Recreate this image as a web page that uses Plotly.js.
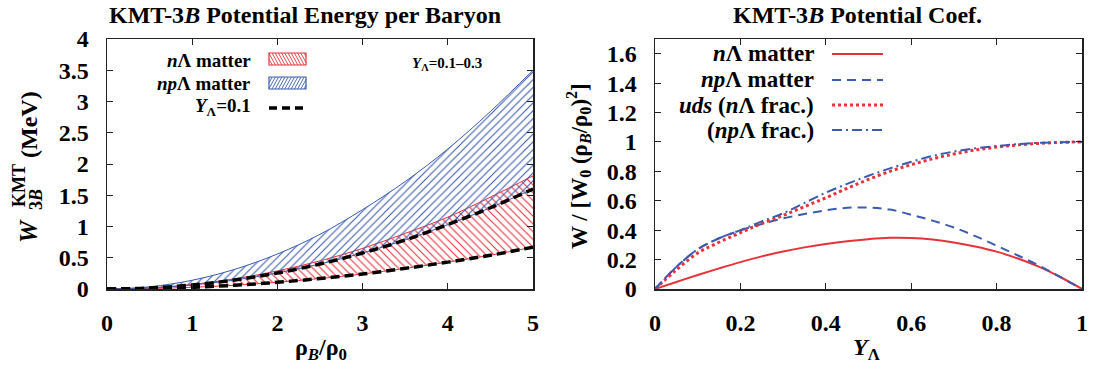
<!DOCTYPE html>
<html>
<head>
<meta charset="utf-8">
<script src="https://cdn.plot.ly/plotly-3.0.1.min.js"></script>
<style>html,body{margin:0;padding:0;background:#fff;}#chart{width:1094px;height:368px;}</style>
</head>
<body>
<div id="chart"></div>
<script>
// ---------- data: left panel (W_3B^KMT vs rho_B/rho_0) ----------
const rho = [0, 0.5, 1, 1.5, 2, 2.5, 3, 3.5, 4, 4.5, 5];
const wNLam01  = [0, 0.007, 0.027, 0.060, 0.107, 0.168, 0.240, 0.330, 0.430, 0.540, 0.670]; // nΛ, Y=0.1
const wNLam03  = [0, 0.018, 0.072, 0.163, 0.290, 0.450, 0.650, 0.890, 1.150, 1.470, 1.810]; // nΛ, Y=0.3
const wNPLam01 = [0, 0.016, 0.064, 0.144, 0.256, 0.400, 0.576, 0.784, 1.030, 1.300, 1.600]; // npΛ, Y=0.1
const wNPLam03 = [0, 0.035, 0.140, 0.315, 0.560, 0.875, 1.270, 1.720, 2.240, 2.840, 3.500]; // npΛ, Y=0.3

// ---------- data: right panel (coefficients vs Y_Λ) ----------
const yLam = [0, 0.05, 0.1, 0.15, 0.2, 0.25, 0.3, 0.35, 0.4, 0.45, 0.5, 0.55, 0.6, 0.65, 0.7, 0.75, 0.8, 0.85, 0.9, 0.95, 1.0];
const cNLam   = [0, 0.048, 0.095, 0.140, 0.183, 0.222, 0.255, 0.283, 0.306, 0.325, 0.339, 0.348, 0.347, 0.336, 0.316, 0.289, 0.254, 0.207, 0.150, 0.080, 0];
const cNPLam  = [0, 0.150, 0.270, 0.345, 0.398, 0.442, 0.480, 0.510, 0.535, 0.552, 0.553, 0.540, 0.505, 0.465, 0.418, 0.360, 0.295, 0.228, 0.158, 0.080, 0];
const cUdsNL  = [0, 0.130, 0.245, 0.318, 0.383, 0.445, 0.500, 0.560, 0.620, 0.685, 0.745, 0.800, 0.845, 0.885, 0.918, 0.945, 0.965, 0.980, 0.990, 0.997, 1.0];
const cUdsNPL = [0, 0.150, 0.270, 0.345, 0.400, 0.460, 0.515, 0.585, 0.655, 0.715, 0.770, 0.820, 0.865, 0.905, 0.935, 0.957, 0.972, 0.985, 0.994, 0.998, 1.0];

// ---------- labels ----------
const titleLeft  = '<b>KMT-3<i>B</i> Potential Energy per Baryon</b>';
const titleRight = '<b>KMT-3<i>B</i> Potential Coef.</b>';
const legLeft  = ['<b><i>n</i>Λ matter</b>', '<b><i>np</i>Λ matter</b>', '<b><i>Y</i><sub>Λ</sub>=0.1</b>'];
const legRight = ['<b><i>n</i>Λ matter</b>', '<b><i>np</i>Λ matter</b>', '<b><i>uds</i> (<i>n</i>Λ frac.)</b>', '<b>(<i>np</i>Λ frac.)</b>'];

const RED = '#e8323a', BLUE = '#3a5bb0', BLACK = '#000';
const W = 1094, H = 368;
const FONT = 'Liberation Serif';
const px = v => v / W, py = v => 1 - v / H;

const traces = [
  {x: rho, y: wNLam01, xaxis: 'x', yaxis: 'y', mode: 'lines', line: {color: RED, width: 1, shape: 'spline'}, showlegend: false},
  {x: rho, y: wNLam03, xaxis: 'x', yaxis: 'y', mode: 'lines', line: {color: RED, width: 1, shape: 'spline'}, fill: 'tonexty',
   fillcolor: 'rgba(0,0,0,0)', fillpattern: {shape: '\\', fgcolor: RED, bgcolor: 'rgba(0,0,0,0)', size: 5.5, solidity: 0.2}, showlegend: false},
  {x: rho, y: wNPLam01, xaxis: 'x', yaxis: 'y', mode: 'lines', line: {color: BLUE, width: 1, shape: 'spline'}, showlegend: false},
  {x: rho, y: wNPLam03, xaxis: 'x', yaxis: 'y', mode: 'lines', line: {color: BLUE, width: 1, shape: 'spline'}, fill: 'tonexty',
   fillcolor: 'rgba(0,0,0,0)', fillpattern: {shape: '/', fgcolor: BLUE, bgcolor: 'rgba(0,0,0,0)', size: 5.5, solidity: 0.2}, showlegend: false},
  {x: rho, y: wNLam01, xaxis: 'x', yaxis: 'y', mode: 'lines', line: {color: BLACK, width: 3.5, dash: '9px,5px', shape: 'spline'}, showlegend: false},
  {x: rho, y: wNPLam01, xaxis: 'x', yaxis: 'y', mode: 'lines', line: {color: BLACK, width: 3.5, dash: '9px,5px', shape: 'spline'}, showlegend: false},

  {x: yLam, y: cNLam, xaxis: 'x2', yaxis: 'y2', mode: 'lines', line: {color: RED, width: 2, shape: 'spline'}, showlegend: false},
  {x: yLam, y: cNPLam, xaxis: 'x2', yaxis: 'y2', mode: 'lines', line: {color: BLUE, width: 2, dash: '9px,6px', shape: 'spline'}, showlegend: false},
  {x: yLam, y: cUdsNL, xaxis: 'x2', yaxis: 'y2', mode: 'lines', line: {color: RED, width: 3, dash: 'dot', shape: 'spline'}, showlegend: false},
  {x: yLam, y: cUdsNPL, xaxis: 'x2', yaxis: 'y2', mode: 'lines', line: {color: BLUE, width: 2, dash: '10px,4px,2px,4px', shape: 'spline'}, showlegend: false}
];

const tickFont = {family: FONT, size: 24, color: '#000', weight: 'bold'};
const axBase = {showgrid: false, zeroline: false, showline: true, linecolor: '#222', linewidth: 1.5,
  mirror: 'ticks', ticks: 'inside', ticklen: 6, tickcolor: '#222', tickwidth: 1, tickfont: tickFont, fixedrange: true};

const ann = [];
const addText = (x, y, text, size, xanchor, extra) => ann.push(Object.assign({xref: 'paper', yref: 'paper', x: px(x), y: py(y), text: text,
  showarrow: false, xanchor: xanchor || 'center', yanchor: 'middle', font: {family: FONT, size: size, color: '#000'}}, extra || {}));

addText(305, 15, titleLeft, 24);
addText(857, 15, titleRight, 24);
addText(321, 349, '<b>ρ<sub><i>B</i></sub>/ρ<sub>0</sub></b>', 24);
addText(866, 349, '<b><i>Y</i><sub>Λ</sub></b>', 24);
// left y title: W with stacked superscript KMT and subscript 3B, then (MeV)
const rot = {textangle: -90};
addText(29, 231, '<b><i>W</i></b>', 25, 'center', rot);
addText(19, 186, '<b>KMT</b>', 18, 'center', rot);
addText(36, 200, '<b>3<i>B</i></b>', 18, 'center', rot);
addText(29, 124, '<b>(MeV)</b>', 24, 'center', rot);
addText(578, 166, '<b>W / [W<sub>0</sub> (ρ<sub><i>B</i></sub>/ρ<sub>0</sub>)<sup>2</sup>]</b>', 23, 'center', rot);
addText(447, 64, '<b><i>Y</i><sub>Λ</sub>=0.1–0.3</b>', 15);

const leftRows = [60, 83, 107];
legLeft.forEach((t, i) => addText(253, leftRows[i], t, 19, 'right'));
const rightRows = [54, 80, 105, 130];
legRight.forEach((t, i) => addText(816, rightRows[i], t, 23, 'right'));

// legend swatches (paper coordinates)
const shapes = [];
function hatch(x0, y0, x1, y1, dir, color) {
  shapes.push({type: 'rect', xref: 'paper', yref: 'paper', x0: px(x0), x1: px(x1), y0: py(y0), y1: py(y1),
    line: {color: color, width: 1.2}, fillcolor: '#fff'});
  const h = y1 - y0, k = 0.55 * h, s = 3.2;
  let d = '';
  for (let c = x0 - k; c < x1; c += s) {
    const tA = Math.max(0, (x0 - c) / k), tB = Math.min(1, (x1 - c) / k);
    if (tB <= tA) continue;
    const xa = c + k * tA, xb = c + k * tB;
    let ya, yb;
    if (dir === '\\') { ya = y0 + h * tA; yb = y0 + h * tB; } else { ya = y1 - h * tA; yb = y1 - h * tB; }
    d += 'M' + px(xa) + ',' + py(ya) + 'L' + px(xb) + ',' + py(yb);
  }
  shapes.push({type: 'path', xref: 'paper', yref: 'paper', path: d, line: {color: color, width: 0.9}});
}
hatch(269, 53, 306, 65, '\\', RED);
hatch(269, 77, 306, 89, '/', BLUE);
shapes.push({type: 'line', xref: 'paper', yref: 'paper', x0: px(269), x1: px(306), y0: py(108), y1: py(108), line: {color: BLACK, width: 3.5, dash: '8px,5px'}});

const rl = [{c: RED, d: 'solid', w: 2}, {c: BLUE, d: '9px,6px', w: 2}, {c: RED, d: 'dot', w: 3}, {c: BLUE, d: '10px,4px,2px,4px', w: 2}];
rl.forEach((o, i) => shapes.push({type: 'line', xref: 'paper', yref: 'paper', x0: px(832), x1: px(883), y0: py(rightRows[i]), y1: py(rightRows[i]),
  line: {color: o.c, width: o.w, dash: o.d}}));

const layout = {
  width: W, height: H, margin: {l: 0, r: 0, t: 0, b: 0}, paper_bgcolor: '#fff', plot_bgcolor: '#fff', showlegend: false,
  font: {family: FONT, color: '#000'},
  xaxis: Object.assign({}, axBase, {domain: [px(107), px(533)], range: [0, 5], dtick: 1, tick0: 0, anchor: 'y', ticklabelstandoff: 12}),
  yaxis: Object.assign({}, axBase, {domain: [py(289), py(39)], range: [0, 4], dtick: 0.5, tick0: 0, anchor: 'x', ticklabelstandoff: 12}),
  xaxis2: Object.assign({}, axBase, {domain: [px(655), px(1082)], range: [0, 1], dtick: 0.2, tick0: 0, anchor: 'y2', ticklabelstandoff: 12}),
  yaxis2: Object.assign({}, axBase, {domain: [py(289), py(39)], range: [0, 1.7], dtick: 0.2, tick0: 0, anchor: 'x2', ticklabelstandoff: 12}),
  annotations: ann, shapes: shapes
};
Plotly.newPlot('chart', traces, layout, {displayModeBar: false, staticPlot: true});
</script>
</body>
</html>
